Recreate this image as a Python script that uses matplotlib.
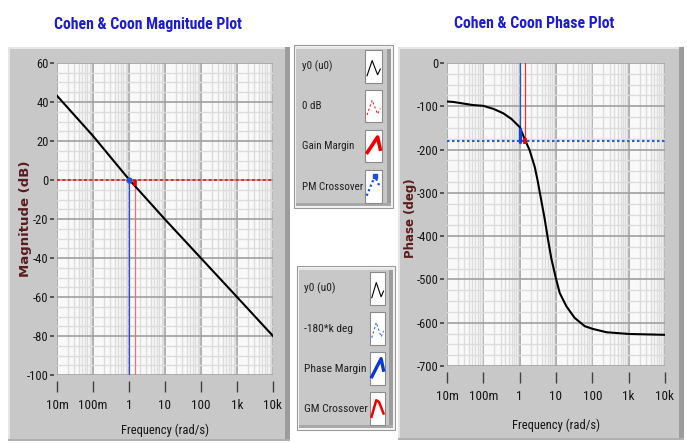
import numpy as np
import matplotlib
matplotlib.use("Agg")
import matplotlib.pyplot as plt
from matplotlib.patches import Rectangle
from matplotlib.lines import Line2D
from matplotlib.ticker import FixedLocator, MultipleLocator, LogLocator, NullFormatter
from matplotlib import font_manager

plt.rcParams["axes.unicode_minus"] = False

# ---------------- data ----------------
freq_ticks = [0.01, 0.1, 1, 10, 100, 1000, 10000]
freq_tick_labels = ["10m", "100m", "1", "10", "100", "1k", "10k"]
mag_ticks = [60, 40, 20, 0, -20, -40, -60, -80, -100]
phase_ticks = [0, -100, -200, -300, -400, -500, -600, -700]

mag_freq = [0.01, 0.1, 1, 10, 100, 1000, 10000]
mag_db = [43.2, 22.6, 0.3, -20.2, -40.1, -60.0, -80.0]

phase_freq = [0.01, 0.015, 0.05, 0.1, 0.19, 0.35, 0.59, 1.0, 1.43, 1.87, 2.6,
              3.16, 3.56, 4.88, 6.0, 7.5, 9.6, 12.6, 19.3, 32.7, 62, 100, 245,
              1000, 10000]
phase_deg = [-89, -90, -97, -99, -106, -116, -129, -148, -179, -201, -240,
             -274, -298, -360, -407, -453, -492, -531, -562, -589, -608, -614,
             -622, -626, -628]

ref_db = 0            # 0 dB line
ref_deg = -180        # -180*k deg line
gain_cross_freq = 1.0     # PM crossover (|G| = 0 dB)
phase_cross_freq = 1.43   # GM crossover (phase = -180)
mag_at_phase_cross = -3.0
phase_at_gain_cross = -150

legend1_labels = ["y0 (u0)", "0 dB", "Gain Margin", "PM Crossover"]
legend2_labels = ["y0 (u0)", "-180*k deg", "Phase Margin", "GM Crossover"]

# ---------------- fonts ----------------
def have(fam):
    try:
        font_manager.findfont(font_manager.FontProperties(family=fam),
                              fallback_to_default=False)
        return True
    except Exception:
        return False

NARROW = None
for cand in ["Liberation Sans Narrow", "DejaVu Sans Condensed", "Roboto Condensed",
             "Liberation Sans"]:
    if have(cand):
        NARROW = cand
        break
if NARROW is None:
    NARROW = "DejaVu Sans"
FAM = [NARROW, "DejaVu Sans"]

# ---------------- figure / layout ----------------
W, H = 687, 443
fig = plt.figure(figsize=(W / 100, H / 100), dpi=100)
fig.patch.set_facecolor("white")


def fx(px):
    return px / W


def fy(py):
    return 1 - py / H


def rect(x0, y0, x1, y1, **kw):
    r = Rectangle((fx(x0), fy(y1)), fx(x1) - fx(x0), fy(y0) - fy(y1),
                  transform=fig.transFigure, **kw)
    fig.add_artist(r)
    return r


PANEL = "#c8c8c8"
DARK = "#9c9c9c"
LIGHT = "#e6e6e6"


def panel(x0, y0, x1, y1, z=-20):
    rect(x0, y0, x1, y1, facecolor=PANEL, edgecolor="none", zorder=z)
    rect(x0, y0, x1, y0 + 2, facecolor=LIGHT, edgecolor="none", zorder=z + 1)
    rect(x0, y0, x0 + 2, y1, facecolor=LIGHT, edgecolor="none", zorder=z + 1)
    rect(x1 - 5, y0, x1, y1, facecolor=DARK, edgecolor="none", zorder=z + 1)
    rect(x0, y1 - 2, x1, y1, facecolor="#b0b0b0", edgecolor="none", zorder=z + 1)


panel(8, 47, 290, 441)
panel(398, 47, 684, 440)

ax1 = fig.add_axes([fx(57), fy(375), fx(273) - fx(57), fy(63) - fy(375)])
ax2 = fig.add_axes([fx(447), fy(366), fx(665) - fx(447), fy(63) - fy(366)])

renderer = fig.canvas.get_renderer()


def fit(t, width_px):
    bb = t.get_window_extent(renderer)
    t.set_fontsize(t.get_fontsize() * width_px / bb.width)
    return t


def style_axes(ax, ylim, yticks, yminor):
    ax.set_facecolor("#f9f9f9")
    ax.set_xscale("log")
    ax.set_xlim(0.01, 10000)
    ax.set_ylim(*ylim)
    ax.xaxis.set_major_locator(FixedLocator(freq_ticks))
    ax.set_xticklabels(freq_tick_labels)
    ax.xaxis.set_minor_locator(LogLocator(base=10, subs=np.arange(2, 10), numticks=50))
    ax.xaxis.set_minor_formatter(NullFormatter())
    ax.yaxis.set_major_locator(FixedLocator(yticks))
    ax.yaxis.set_minor_locator(MultipleLocator(yminor))
    ax.grid(which="minor", color="#dcdcdc", lw=1.0, zorder=0)
    ax.grid(which="major", color="#a0a0a0", lw=1.2, zorder=0)
    ax.set_axisbelow(True)
    for s in ["top", "right"]:
        ax.spines[s].set_visible(False)
    ax.spines["left"].set_position(("outward", 2))
    ax.spines["bottom"].set_position(("outward", 4))
    ax.spines["left"].set_visible(False)
    ax.spines["bottom"].set_visible(False)
    ax.tick_params(which="minor", length=0)
    ax.tick_params(axis="x", which="major", length=8, width=1.0, color="#404040",
                   direction="out", pad=5, labelsize=9.5, labelcolor="#151515")
    ax.tick_params(axis="y", which="major", length=3, width=1.2, color="#404040",
                   direction="out", pad=1, labelsize=9, labelcolor="#151515")
    for lab in ax.get_xticklabels() + ax.get_yticklabels():
        lab.set_family(FAM)


style_axes(ax1, (-100, 60), mag_ticks, 5)
style_axes(ax2, (-700, 0), phase_ticks, 25)

# ---------------- magnitude plot ----------------
ax1.axhline(ref_db, color="#ee1c1c", lw=1.3, ls=(0, (1.6, 1.4)), zorder=3)
ax1.plot([gain_cross_freq, gain_cross_freq], [ref_db, -100], color="#2a4fe0", lw=0.9, zorder=3)
ax1.plot([phase_cross_freq, phase_cross_freq], [mag_at_phase_cross, -100],
         color="#f27070", lw=0.9, zorder=3)
ax1.plot(mag_freq, mag_db, color="black", lw=1.5, zorder=4)
ax1.plot([phase_cross_freq, phase_cross_freq], [ref_db, mag_at_phase_cross],
         color="#ee0000", lw=2.6, zorder=5, solid_capstyle="butt")
ax1.plot([gain_cross_freq], [ref_db], marker="o", ms=3.5, color="#2050e0", zorder=5)

# ---------------- phase plot ----------------
ax2.axhline(ref_deg, color="#2a5ae0", lw=1.5, ls=(0, (1.2, 1.2)), zorder=3)
ax2.plot([gain_cross_freq, gain_cross_freq], [0, ref_deg - 5], color="#2a4fe0", lw=0.9, zorder=3)
ax2.plot([phase_cross_freq, phase_cross_freq], [0, ref_deg], color="#ee3030", lw=0.9, zorder=3)
ax2.plot(phase_freq, phase_deg, color="black", lw=1.5, zorder=4)
ax2.plot([gain_cross_freq, gain_cross_freq], [phase_at_gain_cross, ref_deg - 5],
         color="#1040e0", lw=2.4, zorder=5, solid_capstyle="butt")
ax2.plot([phase_cross_freq, phase_cross_freq], [ref_deg + 6, ref_deg - 6],
         color="#ee0000", lw=2.6, zorder=5, solid_capstyle="butt")

# ---------------- titles and axis labels ----------------
t1 = fig.text(fx(148), fy(24), "Cohen & Coon Magnitude Plot", ha="center", va="center",
              color="#1c1cd6", fontweight="bold", family=FAM, fontsize=14)
fit(t1, 190)
t2 = fig.text(fx(534), fy(24), "Cohen & Coon Phase Plot", ha="center", va="center",
              color="#1c1cd6", fontweight="bold", family=FAM, fontsize=14)
t2.set_fontsize(t1.get_fontsize())

yl1 = fig.text(fx(26), fy(219), "Magnitude (dB)", ha="center", va="center",
               color="#5a1c1c", fontweight="bold", family="DejaVu Sans", fontsize=9.5,
               rotation=90)
yl2 = fig.text(fx(411), fy(218), "Phase (deg)", ha="center", va="center",
               color="#5a1c1c", fontweight="bold", family="DejaVu Sans", fontsize=8.5,
               rotation=90)

xl1 = fig.text(fx(165), fy(430), "Frequency (rad/s)", ha="center", va="center",
               color="#151515", family=FAM, fontsize=9)
xl2 = fig.text(fx(556), fy(425), "Frequency (rad/s)", ha="center", va="center",
               color="#151515", family=FAM, fontsize=9)

# ---------------- legends ----------------
def legend_box(x0, y0, x1, y1, labels, text_x, sw_x0, sw_x1, rows, glyphs, fit_w):
    rect(x0 - 2, y0 - 2, x1 + 2, y1 + 2, facecolor="#f4f4f4", edgecolor="#9a9a9a",
         lw=0.8, zorder=-15)
    rect(x0, y0, x1, y1, facecolor=PANEL, edgecolor="none", zorder=-14)
    rect(x1 - 4, y0, x1, y1, facecolor=DARK, edgecolor="none", zorder=-13)
    rect(x0, y1 - 3, x1, y1, facecolor="#a8a8a8", edgecolor="none", zorder=-13)
    rect(x0, y0, x1, y0 + 1.5, facecolor=LIGHT, edgecolor="none", zorder=-13)
    texts = []
    for lab, (ry0, ry1), g in zip(labels, rows, glyphs):
        t = fig.text(fx(text_x), fy((ry0 + ry1) / 2), lab, ha="left", va="center",
                     color="#202020", family=FAM, fontsize=9)
        texts.append(t)
        rect(sw_x0, ry0, sw_x1, ry1, facecolor="white", edgecolor="#8a8a8a", lw=0.8,
             zorder=-12)
        pts, kw = g
        xs = [fx(sw_x0 + p[0] * (sw_x1 - sw_x0)) for p in pts]
        ys = [fy(ry1 - p[1] * (ry1 - ry0)) for p in pts]
        fig.add_artist(Line2D(xs, ys, transform=fig.transFigure, zorder=-11, **kw))
    longest = max(texts, key=lambda t: t.get_window_extent(renderer).width)
    fit(longest, fit_w)
    for t in texts:
        t.set_fontsize(longest.get_fontsize())


peak = [(0.12, 0.22), (0.42, 0.68), (0.74, 0.25), (0.9, 0.42)]
glyphs1 = [
    (peak, dict(color="black", lw=0.8)),
    (peak, dict(color="#ee2222", lw=0.8, ls=(0, (2, 2)))),
    ([(0.14, 0.3), (0.74, 0.78), (0.9, 0.4)], dict(color="#ee0000", lw=2.6)),
    ([(0.1, 0.22), (0.58, 0.82), (0.86, 0.5)],
     dict(color="#1a4fe0", lw=1.6, ls=(0, (1, 1.2)), marker="s", ms=2.5,
          markevery=[1])),
]
glyphs2 = [
    (peak, dict(color="black", lw=0.8)),
    (peak, dict(color="#3a66e6", lw=0.8, ls=(0, (2, 2)))),
    ([(0.12, 0.25), (0.74, 0.8), (0.9, 0.45)], dict(color="#0838d8", lw=2.4)),
    ([(0.1, 0.25), (0.42, 0.75), (0.6, 0.7), (0.9, 0.35)], dict(color="#ee0000", lw=1.8)),
]

legend_box(296, 47, 391, 206, legend1_labels, 302, 365, 382,
           [(50, 83), (90, 122), (130, 162), (170, 203)], glyphs1, 61)
legend_box(299, 268, 393, 428, legend2_labels, 304, 370, 385,
           [(272, 305), (312, 345), (352, 385), (392, 425)], glyphs2, 64)

fig.savefig("out.png", dpi=100, facecolor="white")
